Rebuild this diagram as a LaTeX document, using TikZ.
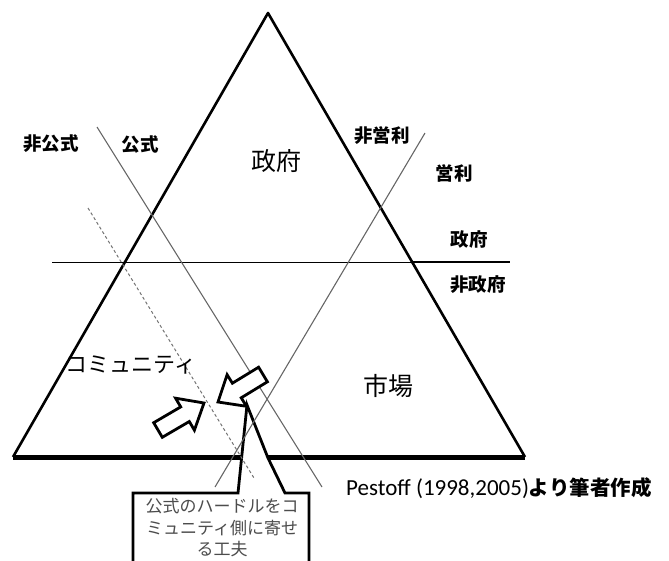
\documentclass[tikz,border=0pt]{standalone}
\usepackage{fontspec}
\newfontfamily\jp{Noto Sans CJK JP}
\newfontfamily\carl{Carlito}
\begin{document}
\begin{tikzpicture}[x=1pt,y=-1pt,
  lbl/.style={font=\jp\bfseries\fontsize{18.5}{20}\selectfont, inner sep=0pt},
  big/.style={font=\jp\fontsize{25}{28}\selectfont, inner sep=0pt},
  side/.style={line width=2.6pt, line join=round},
  grayline/.style={draw=black!60, line width=1.1pt},
  dashline/.style={draw=black!55, line width=1pt, dash pattern=on 3pt off 2.5pt},
  blockarrow/.style={draw, fill=white, line width=2.8pt, line join=miter},
  callout/.style={draw, fill=white, line width=2.8pt, line join=miter}]
\useasboundingbox (0,0) rectangle (669,560);
% triangle vertices
\coordinate (apex) at (268,13);
\coordinate (bl) at (13,457);
\coordinate (br) at (525,457);
% sides and base
\draw[side] (bl) -- (apex) -- (br);
\draw[line width=5pt] (bl) -- (br);
% government / non-government line
\coordinate (h1) at (52,262);
\coordinate (h2) at (413,262);
\coordinate (h3) at (510,262);
\draw[line width=0.9pt] (h1) -- (h2);
\draw[line width=1.6pt] (h2) -- (h3);
% callout box (filled, hides base line inside pointer)
\coordinate (c1) at (133,565);
\coordinate (c2) at (133,493);
\coordinate (c3) at (238,493);
\coordinate (ctip) at (247,405);
\coordinate (c5) at (268,458);
\coordinate (c6) at (285,493);
\coordinate (c7) at (309,493);
\coordinate (c8) at (309,565);
\draw[callout] (c1) -- (c2) -- (c3) -- (ctip) -- (c5) -- (c6) -- (c7) -- (c8);
% formal / informal and profit lines
\coordinate (f1) at (97,127);
\coordinate (f2) at (322,487);
\draw[grayline] (f1) -- (f2);
\coordinate (p1) at (425,133);
\coordinate (p2) at (215,487);
\draw[grayline] (p1) -- (p2);
\coordinate (d1) at (88,208);
\coordinate (d2) at (254,478);
\draw[dashline] (d1) -- (d2);
% block arrows
\draw[blockarrow] (162.3,437.3) -- (189.3,421.5) -- (194.4,430.2) -- (204,403)
  -- (175.6,398.2) -- (180.7,406.9) -- (153.7,422.7) -- cycle;
\draw[blockarrow] (267.4,381.8) -- (241.2,397.8) -- (246.5,406.3) -- (218,402)
  -- (227.1,374.7) -- (232.4,383.2) -- (258.6,367.2) -- cycle;
% labels
\node[lbl] (informal) at (51,144) {非公式};
\node[lbl] (formal) at (140,144) {公式};
\node[lbl] (nonprofit) at (382,136) {非営利};
\node[lbl] (profit) at (454,173) {営利};
\node[lbl] (gov) at (469,240) {政府};
\node[lbl] (nongov) at (478,285) {非政府};
\node[big] (govbig) at (276,161) {政府};
\node[big] (market) at (388,386) {市場};
\node[font=\jp\fontsize{22}{24}\selectfont, inner sep=0pt] (community) at (131,365) {コミュニティ};
\node[anchor=west, inner sep=0pt] (src) at (346,488)
  {{\carl\fontsize{23}{25}\selectfont Pestoff (1998,2005)}{\jp\bfseries\fontsize{20.5}{22}\selectfont より筆者作成}};
\node[align=center, inner sep=0pt, text=black!70, font=\jp\fontsize{17}{21.5}\selectfont] (note) at (222,528)
  {公式のハードルをコ\\ミュニティ側に寄せ\\る工夫};
\end{tikzpicture}
\end{document}
